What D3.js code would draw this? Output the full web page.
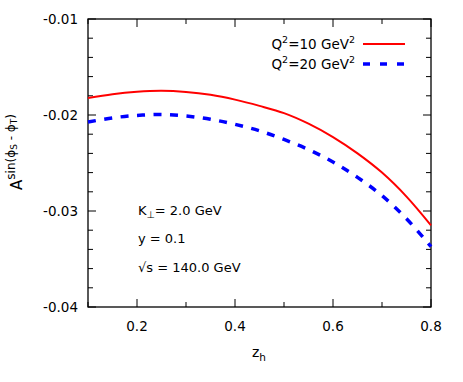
<!DOCTYPE html>
<html>
<head>
<meta charset="utf-8">
<script src="https://cdn.jsdelivr.net/npm/d3@7"></script>
<style>
  body { margin: 0; background: #fff; }
  text { font-family: "DejaVu Sans", sans-serif; fill: #000; }
</style>
</head>
<body>
<div id="chart-area"></div>
<script>
// values
var zh = [0.1, 0.15, 0.2, 0.25, 0.3, 0.35, 0.4, 0.45, 0.5, 0.55, 0.6, 0.65, 0.7, 0.75, 0.8];
var q10 = [-0.01823, -0.01783, -0.01758, -0.01748, -0.0176, -0.0179, -0.0184, -0.01905, -0.0198, -0.0209, -0.0223, -0.0240, -0.0260, -0.0285, -0.0315];
var q20 = [-0.02073, -0.0203, -0.02004, -0.01995, -0.0201, -0.02045, -0.02097, -0.02165, -0.02255, -0.0236, -0.0249, -0.0265, -0.0284, -0.0308, -0.0337];
var xTicks = [0.2, 0.4, 0.6, 0.8];
var yTicks = [-0.01, -0.02, -0.03, -0.04];

var W = 463, H = 382;
var pLeft = 88, pRight = 431, pTop = 19, pBottom = 307;

var svg = d3.select("#chart-area").append("svg")
	.attr("width", W)
	.attr("height", H);

var x = d3.scaleLinear().domain([0.1, 0.8]).range([pLeft, pRight]);
var y = d3.scaleLinear().domain([-0.04, -0.01]).range([pBottom, pTop]);

var xMinor = d3.range(0.1, 0.8001, 0.1);
var yMinor = d3.range(-0.04, -0.00999, 0.002);

// ticks inside on all 4 sides
var g = svg.append("g").attr("stroke", "#000").attr("stroke-width", 1);
xMinor.forEach(function(v) {
	var big = xTicks.some(function(t) { return Math.abs(t - v) < 1e-6; });
	var len = big ? 8 : 5;
	g.append("line").attr("x1", x(v)).attr("x2", x(v)).attr("y1", pBottom).attr("y2", pBottom - len);
	g.append("line").attr("x1", x(v)).attr("x2", x(v)).attr("y1", pTop).attr("y2", pTop + len);
});
yMinor.forEach(function(v) {
	var big = yTicks.some(function(t) { return Math.abs(t - v) < 1e-6; });
	var len = big ? 8 : 5;
	g.append("line").attr("y1", y(v)).attr("y2", y(v)).attr("x1", pLeft).attr("x2", pLeft + len);
	g.append("line").attr("y1", y(v)).attr("y2", y(v)).attr("x1", pRight).attr("x2", pRight - len);
});

svg.append("rect").attr("x", pLeft).attr("y", pTop).attr("width", pRight - pLeft).attr("height", pBottom - pTop)
	.attr("fill", "none").attr("stroke", "#000").attr("stroke-width", 1.3);

// tick labels (plain hyphen like gnuplot)
svg.selectAll(".xl").data(xTicks).enter().append("text")
	.attr("x", function(d) { return x(d); }).attr("y", pBottom + 24)
	.attr("text-anchor", "middle").attr("font-size", 13.5)
	.text(function(d) { return d.toFixed(1); });
svg.selectAll(".yl").data(yTicks).enter().append("text")
	.attr("x", pLeft - 10).attr("y", function(d) { return y(d) + 5; })
	.attr("text-anchor", "end").attr("font-size", 13.5)
	.text(function(d) { return d.toFixed(2); });

// axis titles
var xt = svg.append("text").attr("x", 252).attr("y", 357).attr("font-size", 14);
xt.append("tspan").text("z");
xt.append("tspan").attr("font-size", 10.5).attr("dy", 4).text("h");

var yt = svg.append("text").attr("transform", "translate(22,152) rotate(-90)")
	.attr("text-anchor", "middle").attr("font-size", 15);
yt.append("tspan").text("A");
yt.append("tspan").attr("font-size", 12).attr("dy", -7).text("sin(ϕ");
yt.append("tspan").attr("font-size", 9).attr("dy", 2).text("S");
yt.append("tspan").attr("font-size", 12).attr("dy", -2).text(" - ϕ");
yt.append("tspan").attr("font-size", 9).attr("dy", 2).text("T");
yt.append("tspan").attr("font-size", 12).attr("dy", -2).text(")");

// curves
var line = d3.line()
	.x(function(d) { return x(d[0]); })
	.y(function(d) { return y(d[1]); })
	.curve(d3.curveCatmullRom);

svg.append("path").datum(d3.zip(zh, q10)).attr("d", line)
	.attr("fill", "none").attr("stroke", "#ff0000").attr("stroke-width", 2);
svg.append("path").datum(d3.zip(zh, q20)).attr("d", line)
	.attr("fill", "none").attr("stroke", "#0000ff").attr("stroke-width", 3.5)
	.attr("stroke-dasharray", "8,8.5");

// legend
var legend = [
	{ q: "10", color: "#ff0000", dash: null, w: 2, yy: 44 },
	{ q: "20", color: "#0000ff", dash: "7,10", w: 3.5, yy: 64 }
];
legend.forEach(function(l) {
	var t = svg.append("text").attr("x", 355).attr("y", l.yy + 5)
		.attr("text-anchor", "end").attr("font-size", 13.5);
	t.append("tspan").text("Q");
	t.append("tspan").attr("font-size", 9.5).attr("dy", -6).text("2");
	t.append("tspan").attr("dy", 6).text("=" + l.q + " GeV");
	t.append("tspan").attr("font-size", 9.5).attr("dy", -6).text("2");
	svg.append("line").attr("x1", 363).attr("x2", 405).attr("y1", l.yy).attr("y2", l.yy)
		.attr("stroke", l.color).attr("stroke-width", l.w)
		.attr("stroke-dasharray", l.dash);
});

// annotations
var k = svg.append("text").attr("x", 138).attr("y", 215).attr("font-size", 13);
k.append("tspan").text("K");
k.append("tspan").attr("font-size", 9.5).attr("dy", 3).text("⊥");
k.append("tspan").attr("dy", -3).text("= 2.0 GeV");
svg.append("text").attr("x", 138).attr("y", 243).attr("font-size", 13).text("y = 0.1");
svg.append("text").attr("x", 138).attr("y", 272).attr("font-size", 13).text("√s = 140.0 GeV");
</script>
</body>
</html>
